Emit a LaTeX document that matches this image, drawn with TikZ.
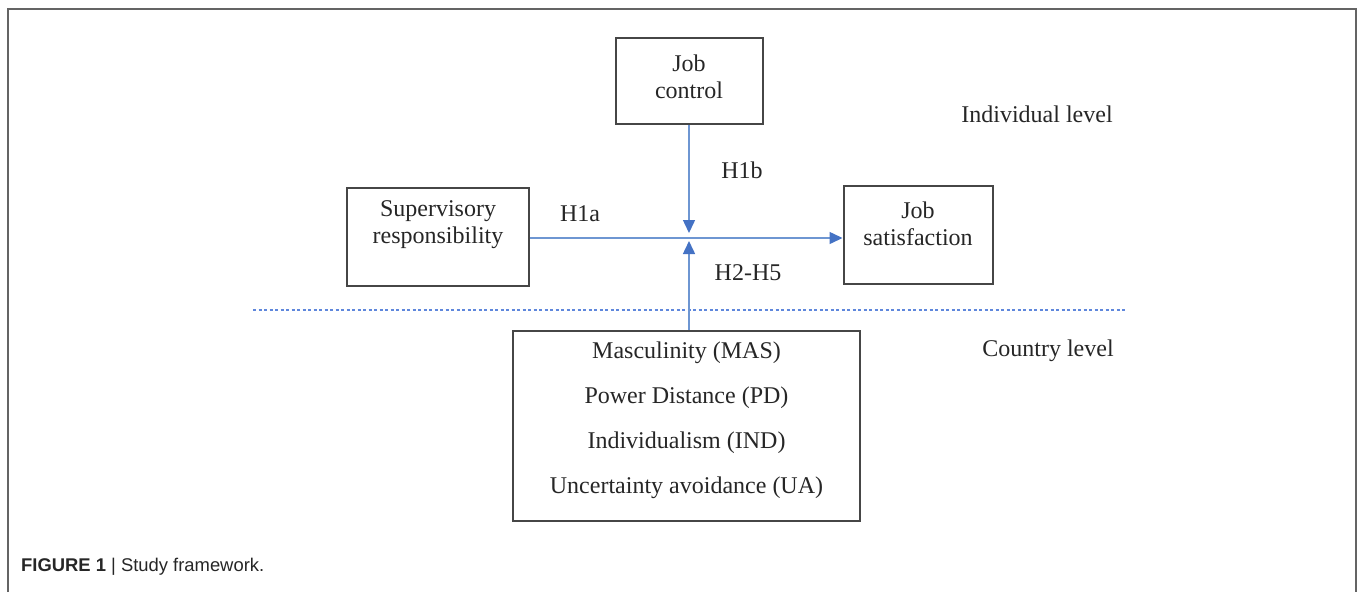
\documentclass[tikz,border=0pt]{standalone}
\usepackage{fontspec}
\setmainfont{Liberation Serif}
\newfontfamily\capfont{Liberation Sans}
\usetikzlibrary{arrows.meta}
\definecolor{frameg}{RGB}{100,100,100}
\definecolor{boxg}{RGB}{70,70,70}
\definecolor{arrb}{RGB}{110,150,210}
\definecolor{tipb}{RGB}{68,114,196}
\definecolor{dotb}{RGB}{95,135,220}
\tikzset{
  box/.style={draw=boxg, line width=2pt, minimum width=#1},
  lbl/.style={font=\fontsize{24}{27}\selectfont, align=center, text=black!85, inner sep=0pt},
  conn/.style={draw=arrb, line width=1.5pt, -{Triangle[length=13pt,width=12pt,fill=tipb,color=tipb]}},
}
\begin{document}
\begin{tikzpicture}[x=1pt,y=-1pt]
\useasboundingbox (0,0) rectangle (1357,592);
% frame
\draw[frameg, line width=2pt] (7.5,592) -- (7.5,8.5) -- (1355.5,8.5) -- (1355.5,592);
% boxes
\node[box=147pt, minimum height=86pt] (jc) at (689,81) {};
\node[box=182pt, minimum height=98pt] (sr) at (438,237) {};
\node[box=149pt, minimum height=98pt] (js) at (918,234.5) {};
\node[box=347pt, minimum height=190pt] (cl) at (686.5,425.5) {};
% texts
\node[lbl] (jct) at (689,77) {Job\\control};
\node[lbl] (srt) at (438,225) {Supervisory\\responsibility};
\node[lbl] (jst) at (918,224) {Job\\satisfaction};
\node[lbl, font=\fontsize{24}{45}\selectfont] (clt) at (686.5,420) {Masculinity (MAS)\\Power Distance (PD)\\Individualism (IND)\\Uncertainty avoidance (UA)};
\node[lbl] (il) at (1037,114) {Individual level};
\node[lbl] (cy) at (1048,351) {Country level};
\node[lbl] (h1a) at (580,214) {H1a};
\node[lbl] (h1b) at (742,170) {H1b};
\node[lbl] (h25) at (748,273) {H2-H5};
% dotted separator
\coordinate (d1) at (253,309.5);
\coordinate (d2) at (1127,309.5);
\draw[dotb, line width=2pt, dash pattern=on 3pt off 2.5pt] (d1) -- (d2);
% connectors
\coordinate (cross) at (689,238);
\draw[conn] (sr.east |- cross) -- (js.west |- cross);
\draw[conn] (jc.south -| cross) -- ([yshift=5pt]cross);
\draw[conn] (cl.north -| cross) -- ([yshift=-3pt]cross);
% caption
\node[anchor=base west, inner sep=0pt, font=\capfont\fontsize{18.4}{20}\selectfont, text=black!85] (cap) at (21,571) {\textbf{FIGURE 1} | Study framework.};
\end{tikzpicture}
\end{document}
